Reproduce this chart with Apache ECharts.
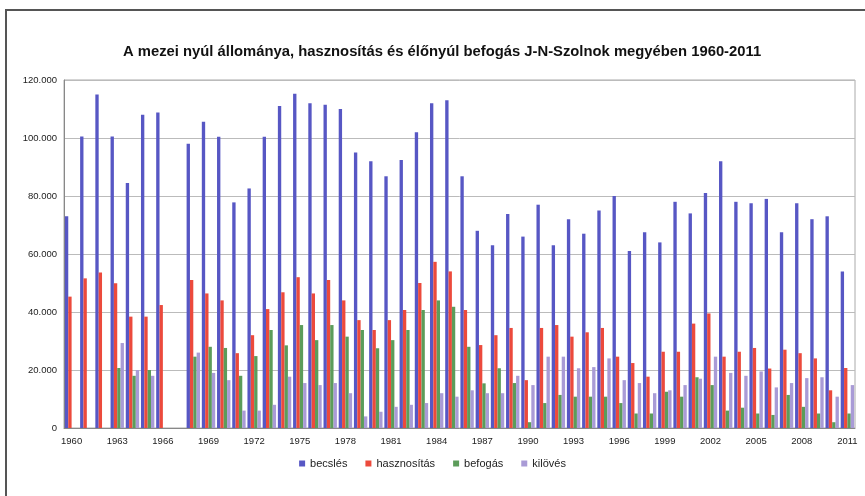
<!DOCTYPE html>
<html>
<head>
<meta charset="utf-8">
<script src="https://cdn.jsdelivr.net/npm/echarts@6/dist/echarts.min.js"></script>
<style>
  html, body { margin: 0; padding: 0; background: #fff; }
  #chart { width: 865px; height: 496px; }
</style>
</head>
<body>
<div id="chart"></div>
<script>
// évek
const years = ['1960', '1961', '1962', '1963', '1964', '1965', '1966', '1967', '1968', '1969',
  '1970', '1971', '1972', '1973', '1974', '1975', '1976', '1977', '1978', '1979',
  '1980', '1981', '1982', '1983', '1984', '1985', '1986', '1987', '1988', '1989',
  '1990', '1991', '1992', '1993', '1994', '1995', '1996', '1997', '1998', '1999',
  '2000', '2001', '2002', '2003', '2004', '2005', '2006', '2007', '2008', '2009',
  '2010', '2011']

// becslés (állomány)
const becsles = [73000, 100500, 115000, 100500, 84500, 108000, 108800, null, 98000, 105600,
  100400, 77800, 82600, 100400, 111000, 115300, 112000, 111500, 110000, 95000,
  92000, 86800, 92400, 102000, 112000, 113000, 86800, 68000, 63000, 73800,
  66000, 77000, 63000, 72000, 67000, 75000, 80000, 61000, 67500, 64000,
  78000, 74000, 81000, 92000, 78000, 77500, 79000, 67500, 77500, 72000,
  73000, 54000]

// hasznosítás
const hasznositas = [45300, 51600, 53600, 49900, 38400, 38400, 42400, null, 51000, 46400,
  44000, 25800, 32000, 41000, 46800, 52000, 46400, 51000, 44000, 37200,
  33800, 37200, 40700, 50000, 57300, 54000, 40700, 28600, 32000, 34500,
  16500, 34500, 35500, 31500, 33000, 34500, 24600, 22400, 17700, 26300,
  26300, 36000, 39500, 24600, 26300, 27600, 20500, 27000, 25800, 24000,
  13000, 20700]

// befogás (élőnyúl)
const befogas = [null, null, null, 20700, 18000, 20000, null, null, 24600, 28000,
  27600, 18000, 24800, 33800, 28500, 35500, 30300, 35500, 31500, 33800,
  27500, 30300, 33800, 40700, 44000, 41800, 28000, 15400, 20600, 15500,
  2000, 8600, 11400, 10800, 10800, 10800, 8600, 5000, 5000, 12500,
  10800, 17500, 14800, 6000, 7000, 5000, 4500, 11400, 7300, 5000,
  2000, 5000]

// kilövés
const kilooves = [null, null, null, 29300, 20000, 18000, null, null, 26000, 19000,
  16500, 6000, 6000, 8000, 17700, 15500, 14800, 15500, 12000, 4000,
  5600, 7300, 8000, 8600, 12000, 10800, 13000, 12000, 12000, 18000,
  14800, 24600, 24600, 20600, 21000, 24000, 16500, 15500, 12000, 13000,
  14800, 17000, 24600, 19000, 18000, 19500, 14000, 15500, 17200, 17500,
  10800, 14800]

const yTicks = [0, 20000, 40000, 60000, 80000, 100000, 120000]

const chart = echarts.init(document.getElementById('chart'))

function fmt(v) {
  return String(v).replace(/\B(?=(\d{3})+(?!\d))/g, '.')
}

const barBase = {
  type: 'bar',
  barGap: '0%',
  barCategoryGap: '12%'
}

const option = {
  backgroundColor: '#fff',
  animation: false,
  textStyle: { fontFamily: 'Liberation Sans, Arial, sans-serif' },
  title: {
    text: 'A mezei nyúl állománya, hasznosítás és élőnyúl befogás J-N-Szolnok megyében 1960-2011',
    left: 118,
    top: 39,
    textStyle: { fontSize: 14.8, fontWeight: 'bold', color: '#111' }
  },
  graphic: [
    { type: 'line', shape: { x1: 5, y1: 10, x2: 865, y2: 10 }, style: { stroke: '#555', lineWidth: 2 } },
    { type: 'line', shape: { x1: 6, y1: 10, x2: 6, y2: 496 }, style: { stroke: '#555', lineWidth: 2 } }
  ],
  legend: {
    bottom: 22,
    left: 'center',
    itemWidth: 6,
    itemHeight: 6,
    itemGap: 18,
    icon: 'rect',
    textStyle: { fontSize: 11, color: '#222' },
    data: ['becslés', 'hasznosítás', 'befogás', 'kilövés']
  },
  grid: {
    left: 64,
    right: 10,
    top: 80,
    bottom: 68,
    show: true,
    borderColor: '#aaa',
    borderWidth: 1
  },
  xAxis: {
    type: 'category',
    data: years,
    axisTick: { show: false },
    axisLine: { lineStyle: { color: '#888' } },
    axisLabel: { interval: 2, fontSize: 9.5, color: '#222', margin: 8 }
  },
  yAxis: {
    type: 'value',
    min: yTicks[0],
    max: yTicks[yTicks.length - 1],
    interval: 20000,
    axisLine: { show: true, lineStyle: { color: '#888' } },
    axisTick: { show: false },
    axisLabel: { fontSize: 9.5, color: '#222', margin: 7, formatter: fmt },
    splitLine: { lineStyle: { color: '#bbb' } }
  },
  series: [
    Object.assign({ name: 'becslés', data: becsles, itemStyle: { color: '#5757c4' } }, barBase),
    Object.assign({ name: 'hasznosítás', data: hasznositas, itemStyle: { color: '#ec4a3c' } }, barBase),
    Object.assign({ name: 'befogás', data: befogas, itemStyle: { color: '#5c9c5a' } }, barBase),
    Object.assign({ name: 'kilövés', data: kilooves, itemStyle: { color: '#a99bd6' } }, barBase)
  ]
}

chart.setOption(option)
</script>
</body>
</html>
